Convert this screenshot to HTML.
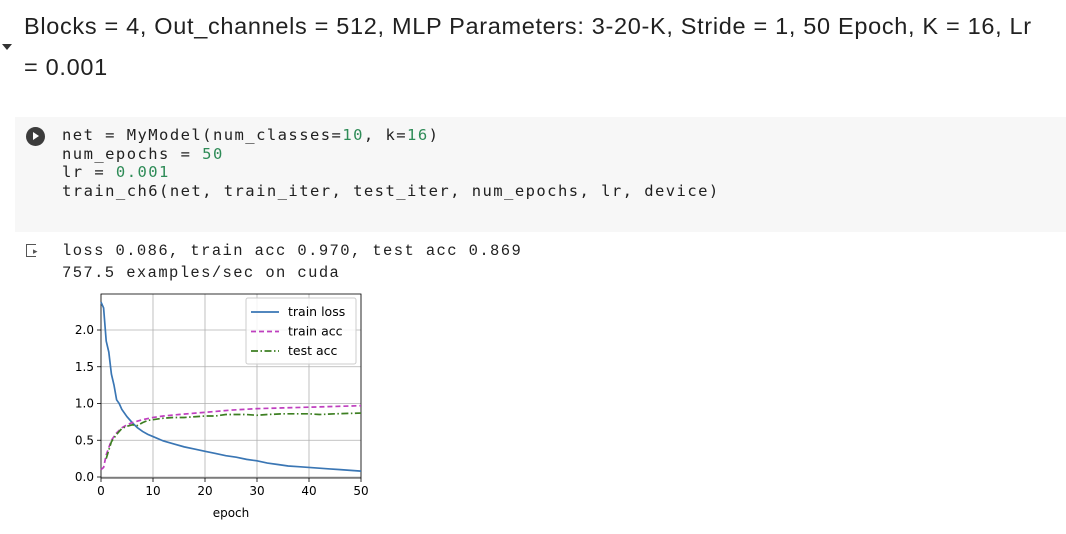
<!DOCTYPE html>
<html><head><meta charset="utf-8"><style>
body{margin:0;width:1066px;height:534px;background:#fff;overflow:hidden;position:relative;font-family:"Liberation Sans",sans-serif}
.t{position:absolute;left:24px;font-size:23.5px;letter-spacing:0.68px;color:#212121}
.cell{position:absolute;left:15px;top:117px;width:1051px;height:115px;background:#f7f7f7}
.code{position:absolute;left:62px;top:126px;font-family:"DejaVu Sans Mono","Liberation Mono",monospace;font-size:15.5px;letter-spacing:1.45px;line-height:18.7px;color:#212121;white-space:pre}
.n{color:#2e8b57}
.out{position:absolute;left:62px;top:240px;font-family:"Liberation Mono",monospace;font-size:15.5px;letter-spacing:1.4px;line-height:22px;color:#212121;white-space:pre}
</style></head><body>
<div style="position:absolute;left:2px;top:44px;width:0;height:0;border-left:5px solid transparent;border-right:5px solid transparent;border-top:6px solid #333"></div>
<div class="t" style="top:13px">Blocks = 4, Out_channels = 512, MLP Parameters: 3-20-K, Stride = 1, 50 Epoch, K = 16, Lr</div>
<div class="t" style="top:54px">= 0.001</div>
<div class="cell"></div>
<div style="position:absolute;left:26px;top:127px;width:19px;height:19px;border-radius:50%;background:#3c3c3c"><div style="position:absolute;left:7px;top:5px;border-left:6px solid #fff;border-top:4.5px solid transparent;border-bottom:4.5px solid transparent"></div></div>
<div class="code">net = MyModel(num_classes=<span class="n">10</span>, k=<span class="n">16</span>)
num_epochs = <span class="n">50</span>
lr = <span class="n">0.001</span>
train_ch6(net, train_iter, test_iter, num_epochs, lr, device)</div>
<div style="position:absolute;left:26px;top:244px;width:9px;height:11px;border:1.5px solid #555;border-right:none;"></div>
<div style="position:absolute;left:33px;top:246px;font-size:9px;color:#555">▸</div>
<div class="out">loss 0.086, train acc 0.970, test acc 0.869
757.5 examples/sec on cuda</div>
<svg id="ch" width="1066" height="534" style="position:absolute;left:0;top:0"></svg>
<script>
const lossX=[0,0.5,1,1.5,2,2.5,3,3.5,4,5,6,7,8,9,10,12,14,16,18,20,22,24,26,28,30,32,34,36,38,40,42,44,46,48,50];
const lossY=[2.38,2.3,1.85,1.7,1.4,1.25,1.05,1.0,0.92,0.82,0.74,0.67,0.62,0.58,0.55,0.49,0.45,0.41,0.38,0.35,0.32,0.29,0.27,0.24,0.22,0.19,0.17,0.15,0.14,0.13,0.12,0.11,0.10,0.09,0.08];
const trainAccX=[0,0.5,1,2,3,4,5,6,8,10,12,15,20,25,30,35,40,45,50];
const trainAccY=[0.1,0.13,0.3,0.5,0.6,0.67,0.71,0.74,0.78,0.81,0.83,0.85,0.88,0.91,0.93,0.94,0.95,0.96,0.97];
const testAccX=[1,2,3,4,5,6,7,8,9,10,12,14,16,18,20,22,24,26,28,30,32,35,40,42,45,50];
const testAccY=[0.25,0.48,0.58,0.66,0.69,0.71,0.70,0.74,0.77,0.78,0.8,0.81,0.81,0.82,0.83,0.83,0.85,0.85,0.85,0.84,0.85,0.86,0.86,0.85,0.86,0.87];
const xTicks=[0,10,20,30,40,50];
const yTicks=[0.0,0.5,1.0,1.5,2.0];
const L=101,R=361,T=294,B=478;
const X=v=>L+(v/50)*(R-L);
const Y=v=>477-v*73.5;
const svg=document.getElementById('ch');const NS='http://www.w3.org/2000/svg';
function mk(tag,a,txt){const e=document.createElementNS(NS,tag);for(const k in a)e.setAttribute(k,a[k]);if(txt!==undefined)e.textContent=txt;svg.appendChild(e);return e;}
xTicks.forEach(t=>{const g=mk('line',{x1:X(t),x2:X(t),y1:T,y2:B,stroke:'#b0b0b0','stroke-width':0.8});

mk('line',{x1:X(t),x2:X(t),y1:B,y2:B+4,stroke:'#000','stroke-width':0.8});
const tx=mk('text',{x:X(t),y:B+17,'text-anchor':'middle','font-size':12,'font-family':'DejaVu Sans,sans-serif',fill:'#000'},t);
});
yTicks.forEach(t=>{const g=mk('line',{x1:L,x2:R,y1:Y(t),y2:Y(t),stroke:'#b0b0b0','stroke-width':0.8});

mk('line',{x1:L-4,x2:L,y1:Y(t),y2:Y(t),stroke:'#000','stroke-width':0.8});
const tx=mk('text',{x:L-7,y:Y(t)+4,'text-anchor':'end','font-size':12,'font-family':'DejaVu Sans,sans-serif',fill:'#000'},t.toFixed(1));
});
const fr=mk('rect',{x:L,y:T,width:R-L,height:B-T,fill:'none',stroke:'#000','stroke-width':0.8});

const xl=mk('text',{x:(L+R)/2,y:517,'text-anchor':'middle','font-size':12,'font-family':'DejaVu Sans,sans-serif'},'epoch');

function line(xs,ys,col,dash,name){const p=mk('polyline',{points:xs.map((x,i)=>X(x)+','+Y(ys[i])).join(' '),fill:'none',stroke:col,'stroke-width':1.7,'stroke-dasharray':dash});
}
line(lossX,lossY,'#3a76b4','none','train-loss-line');
line(trainAccX,trainAccY,'#bf3fbf','5,3','train-acc-line');
line(testAccX,testAccY,'#3d7f22','7,2.5,1.5,2.5','test-acc-line');
const lg=mk('rect',{x:246,y:298,width:110,height:66,fill:'#fff','fill-opacity':0.85,stroke:'#ccc',rx:2});

[['train loss','#3a76b4','none'],['train acc','#bf3fbf','5,3'],['test acc','#3d7f22','7,2.5,1.5,2.5']].forEach((e,i)=>{const y=312+i*19.5;
mk('line',{x1:251,x2:279,y1:y,y2:y,stroke:e[1],'stroke-width':1.7,'stroke-dasharray':e[2]});
const t=mk('text',{x:288,y:y+4,'font-size':12.5,'font-family':'DejaVu Sans,sans-serif'},e[0]);
});
</script>
</body></html>
